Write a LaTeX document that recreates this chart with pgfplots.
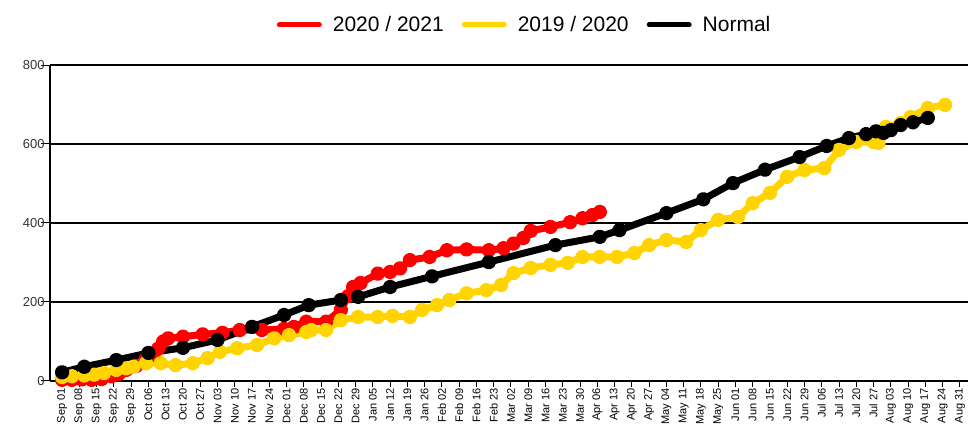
\documentclass[border=0pt]{standalone}
\usepackage{pgfplots}
\pgfplotsset{compat=1.18}
\usepackage{fontspec}
\setmainfont{Liberation Sans}
\definecolor{cred}{RGB}{255,0,0}
\definecolor{cyel}{RGB}{255,212,0}
\begin{document}
\begin{tikzpicture}
\path[use as bounding box] (-50pt,-54pt) rectangle (918pt,381pt);
\begin{axis}[
  scale only axis, width=918pt, height=316pt,
  xmin=-4.9, xmax=367.3, ymin=0, ymax=800,
  axis lines=left, axis line style={line width=1.5pt, -},
  xtick={0,7,...,364},
  xticklabels={Sep 01,Sep 08,Sep 15,Sep 22,Sep 29,Oct 06,Oct 13,Oct 20,Oct 27,Nov 03,Nov 10,Nov 17,Nov 24,Dec 01,Dec 08,Dec 15,Dec 22,Dec 29,Jan 05,Jan 12,Jan 19,Jan 26,Feb 02,Feb 09,Feb 16,Feb 23,Mar 02,Mar 09,Mar 16,Mar 23,Mar 30,Apr 06,Apr 13,Apr 20,Apr 27,May 04,May 11,May 18,May 25,Jun 01,Jun 08,Jun 15,Jun 22,Jun 29,Jul 06,Jul 13,Jul 20,Jul 27,Aug 03,Aug 10,Aug 17,Aug 24,Aug 31},
  x tick label style={rotate=90, anchor=east, font=\fontsize{11}{11}\selectfont, inner sep=1pt, xshift=-2pt},
  ytick={0,200,...,800},
  y tick label style={font=\fontsize{13}{13}\selectfont, text=black!80, inner sep=1pt},
  /pgf/number format/assume math mode=true,
  tick align=outside,
  xtick style={black, line width=1pt, /pgfplots/major tick length=6pt},
  ytick style={black, line width=1pt, /pgfplots/major tick length=9pt},
  ymajorgrids, grid style={black, line width=1.2pt},
  clip=false,
  legend columns=3,
  legend style={draw=none, fill=none, at={(0.517,1.127)}, anchor=center,
    font=\fontsize{21}{21}\selectfont,
    /tikz/every odd column/.append style={column sep=9pt},
    /tikz/every even column/.append style={column sep=16pt}},
  legend image code/.code={\draw[#1, line width=5pt, mark repeat=2, mark phase=2] (0pt,0pt) -- (20pt,0pt) -- (40pt,0pt);},
  every axis plot/.append style={line width=7pt, line join=round, line cap=round, mark=*, mark size=3.8pt},
]
\addplot[cred, mark options={fill=cred, draw=cred}] coordinates {
(0,3)(4,3)(8,4)(12,3)(16,5)(20,12)(23,18)(26,28)(30,38)(34,56)(37,66)(39,82)(41,100)(43,108)
(49,112)(57,118)(65,122)(72,129)(81,129)(90,132)(94,137)(99,150)(107,150)(113,180)(116,215)
(118,238)(121,248)(128,272)(133,276)(137,285)(141,306)(149,314)(156,331)(164,333)(173,331)
(179,336)(183,348)(187,362)(190,380)(198,390)(206,402)(211,412)(215,420)(218,428)};
\addlegendentry{2020 / 2021}
\addplot[cyel, mark options={fill=cyel, draw=cyel}] coordinates {
(0,10)(4,12)(9,14)(13,16)(17,20)(22,28)(26,32)(29,36)(34,45)(40,45)(46,40)(53,45)(59,58)
(64,74)(71,83)(79,91)(86,108)(92,116)(99,124)(101,129)(107,129)(113,154)(120,162)(128,162)
(134,165)(141,162)(146,180)(152,192)(157,205)(164,222)(172,230)(178,243)(183,273)(190,286)
(198,294)(205,299)(211,314)(218,314)(225,314)(232,324)(238,344)(245,357)(253,352)(259,382)
(266,408)(274,415)(280,450)(287,476)(294,517)(301,534)(309,539)(315,585)(322,605)(329,605)
(331,603)(334,643)(340,653)(344,668)(351,691)(358,699)};
\addlegendentry{2019 / 2020}
\addplot[black, mark options={fill=black, draw=black}] coordinates {
(0,22)(9,36)(22,53)(35,71)(49,84)(63,104)(77,137)(90,167)(100,192)(113,205)(120,213)(133,238)
(150,265)(173,301)(200,344)(218,365)(226,382)(245,425)(260,460)(272,501)(285,535)(299,567)
(310,595)(319,615)(326,625)(330,632)(333,628)(336,635)(340,648)(345,655)(351,666)};
\addlegendentry{Normal}
\end{axis}
\end{tikzpicture}
\end{document}
